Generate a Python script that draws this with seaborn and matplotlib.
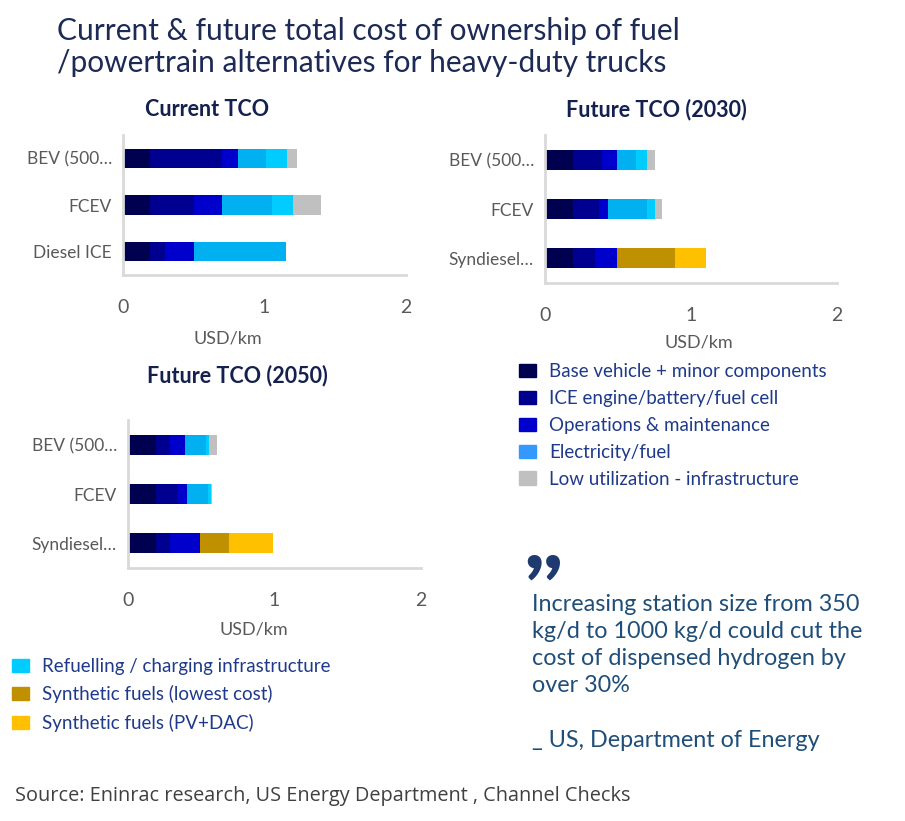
import pandas as pd
import matplotlib.pyplot as plt
import seaborn as sns
from matplotlib.patches import Patch

# components (stack order, left to right)
components = ['Base vehicle + minor components', 'ICE engine/battery/fuel cell',
              'Operations & maintenance', 'Electricity/fuel',
              'Refuelling / charging infrastructure', 'Low utilization - infrastructure',
              'Synthetic fuels (lowest cost)', 'Synthetic fuels (PV+DAC)']
bar_colors = ['#000050', '#000090', '#0000CC', '#00B0F0',
              '#00CCFF', '#C0C0C0', '#BF9000', '#FFC000']

# USD/km per component, in the order of `components`
cats_now = ['BEV (500…', 'FCEV', 'Diesel ICE']
bev_now = [0.19, 0.51, 0.11, 0.20, 0.15, 0.07, 0, 0]
fcev_now = [0.19, 0.31, 0.20, 0.35, 0.15, 0.20, 0, 0]
diesel_now = [0.19, 0.11, 0.20, 0.65, 0, 0, 0, 0]

cats_fut = ['BEV (500…', 'FCEV', 'Syndiesel…']
bev_2030 = [0.19, 0.20, 0.10, 0.13, 0.08, 0.05, 0, 0]
fcev_2030 = [0.19, 0.18, 0.06, 0.27, 0.05, 0.05, 0, 0]
syn_2030 = [0.19, 0.15, 0.15, 0, 0, 0, 0.40, 0.21]

bev_2050 = [0.19, 0.10, 0.10, 0.145, 0.02, 0.055, 0, 0]
fcev_2050 = [0.19, 0.15, 0.06, 0.145, 0.02, 0.01, 0, 0]
syn_2050 = [0.19, 0.10, 0.20, 0, 0, 0, 0.20, 0.30]

x_ticks = [0, 1, 2]

legend1 = components[:4] + [components[5]]
legend1_colors = ['#000050', '#000090', '#0000CC', '#3399FF', '#C0C0C0']
legend2 = [components[4], components[6], components[7]]
legend2_colors = ['#00CCFF', '#BF9000', '#FFC000']

sns.set_style('white')
plt.rcParams['font.family'] = ['Lato', 'DejaVu Sans']

GREY = '#595959'
NAVY = '#14204E'
LEG = '#1F3A8A'


def stacked(ax, cats, rows):
    df = pd.DataFrame(rows, index=cats, columns=components)
    cum = df.cumsum(axis=1)
    # draw cumulative totals from the last component back, so shorter ones sit on top
    for comp, col in reversed(list(zip(components, bar_colors))):
        sns.barplot(x=cum[comp].values, y=cats, color=col, orient='h',
                    width=0.41, saturation=1, ax=ax, linewidth=0)
    ax.set_xlim(0, 2)
    ax.set_xticks(x_ticks)
    ax.set_xticklabels([str(t) for t in x_ticks])
    ax.tick_params(axis='x', length=0, pad=17, labelsize=14, labelcolor=GREY)
    ax.tick_params(axis='y', length=0, pad=8, labelsize=12.5, labelcolor=GREY)
    sns.despine(ax=ax)
    for s in ['left', 'bottom']:
        ax.spines[s].set_color('#D9D9D9')
        ax.spines[s].set_linewidth(2)
    ax.set_ylabel('')


fig = plt.figure(figsize=(9.05, 8.21), dpi=100)
W, H = 905, 821


def add_ax(l, t, r, b):
    return fig.add_axes([l / W, 1 - b / H, (r - l) / W, (b - t) / H])


ax1 = add_ax(123, 135, 406, 275)
ax2 = add_ax(545, 135, 837, 283)
ax3 = add_ax(128, 420, 421, 568)

stacked(ax1, cats_now, [bev_now, fcev_now, diesel_now])
stacked(ax2, cats_fut, [bev_2030, fcev_2030, syn_2030])
stacked(ax3, cats_fut, [bev_2050, fcev_2050, syn_2050])

for ax, xc, yc in [(ax1, 0.37, -0.40), (ax2, 0.527, -0.35), (ax3, 0.43, -0.36)]:
    ax.set_xlabel('USD/km', fontsize=13, color=GREY)
    ax.xaxis.set_label_coords(xc, yc)

fig.text(57 / W, 1 - 47 / H, 'Current & future total cost of ownership of fuel\n/powertrain alternatives for heavy-duty trucks',
         fontsize=21.5, color='#1C2A55', va='center', ha='left', linespacing=1.2)
fig.text(207 / W, 1 - 110 / H, 'Current TCO', fontsize=15.5, fontweight='bold', color=NAVY, ha='center', va='center')
fig.text(656 / W, 1 - 110 / H, 'Future TCO (2030)', fontsize=15.5, fontweight='bold', color=NAVY, ha='center', va='center')
fig.text(237 / W, 1 - 376 / H, 'Future TCO (2050)', fontsize=15.5, fontweight='bold', color=NAVY, ha='center', va='center')

h1 = [Patch(color=c) for c in legend1_colors]
fig.legend(h1, legend1, loc='upper left', bbox_to_anchor=(502 / W, 1 - 346 / H), frameon=False,
           fontsize=13.5, labelcolor=LEG, handlelength=0.9, handleheight=0.7,
           handletextpad=0.7, labelspacing=0.53)
h2 = [Patch(color=c) for c in legend2_colors]
fig.legend(h2, legend2, loc='upper left', bbox_to_anchor=(-5 / W, 1 - 641 / H), frameon=False,
           fontsize=13.5, labelcolor=LEG, handlelength=0.9, handleheight=0.7,
           handletextpad=0.7, labelspacing=0.55)

# closing quote drawn as two heavy commas sitting on the baseline
fig.text(524 / W, 1 - 568 / H, ',,', fontsize=58, fontweight='heavy', color='#1F3A6E',
         ha='left', va='baseline')
fig.text(532 / W, 1 - 594 / H,
         'Increasing station size from 350\nkg/d to 1000 kg/d could cut the\ncost of dispensed hydrogen by\nover 30%\n\n_ US, Department of Energy',
         fontsize=16.8, color='#1F4E79', ha='left', va='top', linespacing=1.36)

fig.text(15 / W, 1 - 796 / H, 'Source: Eninrac research, US Energy Department , Channel Checks',
         fontsize=14.3, color='#404040', ha='left', va='center', family=['Open Sans', 'DejaVu Sans'])

fig.savefig('out.png', dpi=100)
